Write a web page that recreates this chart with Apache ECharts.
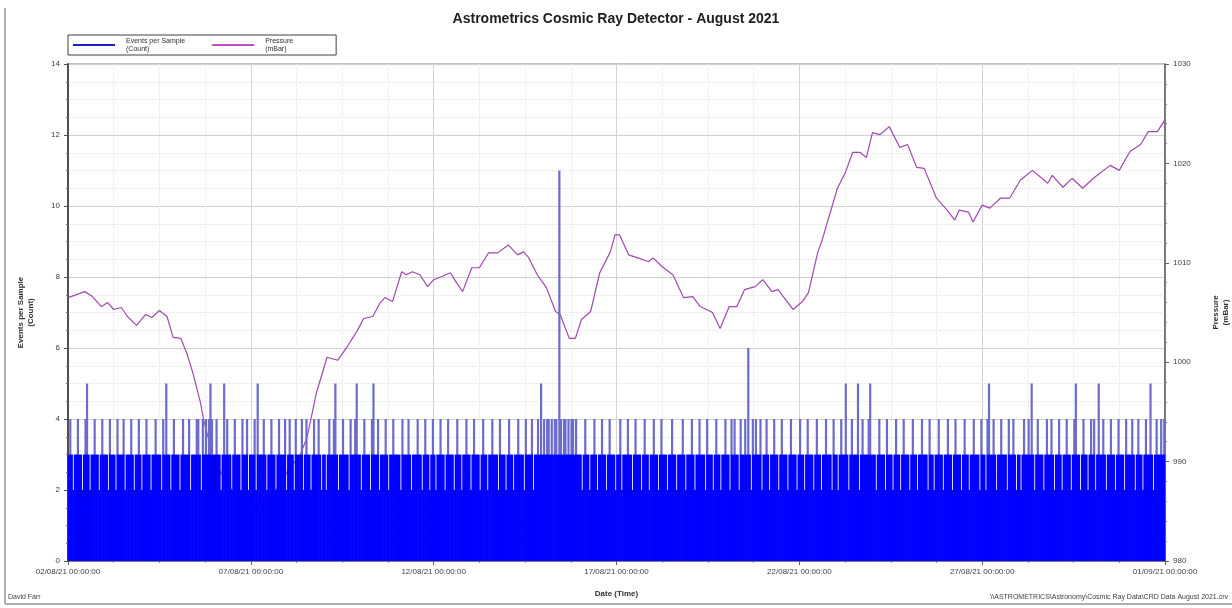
<!DOCTYPE html>
<html>
<head>
<meta charset="utf-8">
<title>Astrometrics Cosmic Ray Detector - August 2021</title>
<script src="https://cdn.jsdelivr.net/npm/echarts@6/dist/echarts.min.js"></script>
<style>
  html, body { margin: 0; padding: 0; background: #fff; }
  #chart { width: 1232px; height: 608px; }
</style>
</head>
<body>
<div id="chart"></div>
<script>
// x axis: hours since 02/08/21 00:00:00, ticks every 5 days
const xTickLabels = ['02/08/21 00:00:00', '07/08/21 00:00:00', '12/08/21 00:00:00', '17/08/21 00:00:00',
  '22/08/21 00:00:00', '27/08/21 00:00:00', '01/09/21 00:00:00']

// events per sample, one sample per hour (one row per day)
const counts = [
  3,4,3,2,3,3,4,3,3,2,3,4,5,3,2,3,3,4,3,3,2,3,4,3,
  3,3,2,4,3,3,3,2,4,3,3,3,4,2,3,3,3,4,3,2,3,3,4,3,
  2,3,3,4,3,3,2,3,3,4,3,3,3,2,4,3,5,3,3,2,3,4,3,3,
  3,2,3,4,3,3,3,4,2,3,3,3,4,4,3,2,4,3,4,3,4,5,4,3,
  3,4,3,3,2,3,5,3,4,3,3,2,3,4,3,3,3,2,4,3,3,4,2,3,
  3,3,4,2,5,3,3,3,4,3,2,3,3,4,3,3,2,3,4,3,3,3,4,2,
  3,4,3,3,2,4,3,3,3,4,2,3,4,3,3,2,3,4,3,3,4,3,2,3,
  3,2,3,4,3,3,4,5,3,2,3,3,4,3,3,3,2,4,3,3,4,5,3,3,
  2,3,4,3,3,3,2,4,5,3,3,4,2,3,3,3,4,3,2,3,3,4,3,3,
  3,3,2,4,3,3,3,4,3,2,3,3,3,4,3,3,2,3,4,3,3,2,3,4,
  3,2,3,3,4,3,3,2,3,4,3,3,3,2,3,4,3,3,2,3,3,4,3,3,
  2,3,4,3,3,3,2,3,4,3,3,2,3,3,4,3,3,3,2,4,3,3,3,2,
  3,4,3,3,2,3,3,4,3,3,3,2,4,3,3,3,4,2,3,3,4,3,5,3,
  4,3,4,4,3,4,3,4,4,3,11,4,3,4,4,3,4,3,4,4,3,4,3,3,
  3,2,3,4,3,3,2,3,3,4,3,2,3,3,4,3,3,2,3,4,3,3,3,2,
  3,3,4,2,3,3,3,4,3,3,2,3,4,3,3,3,2,3,4,3,3,2,3,3,
  4,3,3,2,3,4,3,3,3,2,3,3,4,3,3,2,3,3,3,4,3,2,3,3,
  3,4,3,2,3,3,4,3,3,3,2,4,3,3,3,2,3,4,3,3,2,3,3,4,
  3,3,2,4,3,4,3,3,2,4,3,3,4,3,6,3,2,4,3,4,3,3,4,2,
  3,3,4,3,2,3,3,4,3,3,2,3,4,3,3,3,2,3,4,3,3,3,2,3,
  4,3,3,2,3,4,3,3,3,2,3,4,3,3,2,3,3,4,3,3,3,2,4,3,
  3,2,3,4,3,3,5,3,2,3,4,3,3,3,5,2,3,4,3,3,3,4,5,3,
  3,3,2,3,4,3,3,3,2,4,3,3,3,2,3,4,3,3,2,3,4,3,3,3,
  2,3,4,3,3,2,3,3,4,3,3,3,2,4,3,3,2,3,3,4,3,3,2,3,
  3,4,3,3,2,3,4,3,3,3,2,3,4,3,3,2,3,3,4,3,3,3,2,4,
  3,3,2,4,5,3,3,4,3,2,3,3,4,3,3,3,2,4,3,3,4,3,2,3,
  3,2,3,4,3,3,4,3,5,3,2,3,4,3,3,3,2,3,4,3,3,4,3,2,
  3,3,4,3,2,3,3,4,3,3,2,3,4,5,3,3,2,3,4,3,3,2,3,4,
  3,4,2,3,5,3,3,4,3,2,3,3,4,3,3,2,3,4,3,3,3,2,4,3,
  3,3,4,3,2,3,4,3,3,2,3,4,3,3,5,3,2,3,4,3,3,4,3,4
]

// pressure readings: hours since start and mBar
const pressureHours = [
  0, 11, 16, 22, 26, 30, 35, 39, 45, 51, 55, 60, 65, 69, 74, 78, 82, 87, 89, 96,
  110, 123, 136, 146, 152, 157, 163, 170, 177, 183, 190, 194, 200, 205, 208, 213, 216, 219, 222, 226,
  231, 236, 240, 245, 251, 255, 259, 265, 270, 276, 282, 289, 295, 299, 302, 308, 314, 320, 323, 329,
  333, 337, 343, 349, 356, 359, 362, 368, 374, 381, 384, 390, 397, 404, 410, 415, 423, 428, 434, 439,
  444, 451, 456, 462, 466, 476, 482, 486, 492, 495, 505, 510, 515, 520, 524, 528, 533, 539, 546, 551,
  557, 562, 570, 577, 582, 585, 591, 594, 600, 605, 612, 618, 625, 633, 643, 646, 653, 659, 666, 673,
  684, 690, 697, 704, 709, 715, 720
]
const pressureMbar = [
  1006.5, 1007.1, 1006.6, 1005.6, 1006.0, 1005.3, 1005.5, 1004.6, 1003.7, 1004.8, 1004.5, 1005.2, 1004.6, 1002.5, 1002.4, 1000.9, 998.9, 995.9, 994.2, 990.0,
  986.5, 985.5, 987.0, 989.5, 990.5, 992.5, 996.9, 1000.5, 1000.2, 1001.5, 1003.2, 1004.4, 1004.6, 1006.0, 1006.5, 1006.1, 1007.6, 1009.1, 1008.8, 1009.1,
  1008.8, 1007.6, 1008.3, 1008.6, 1009.0, 1008.0, 1007.1, 1009.5, 1009.5, 1011.0, 1011.0, 1011.8, 1010.8, 1011.1, 1010.6, 1008.8, 1007.5, 1005.1, 1004.8, 1002.4,
  1002.4, 1004.3, 1005.1, 1009.0, 1011.1, 1012.8, 1012.8, 1010.8, 1010.5, 1010.1, 1010.5, 1009.6, 1008.8, 1006.5, 1006.6, 1005.6, 1005.0, 1003.4, 1005.6, 1005.6,
  1007.3, 1007.6, 1008.3, 1007.1, 1007.3, 1005.3, 1006.1, 1007.0, 1011.0, 1012.3, 1017.5, 1019.0, 1021.1, 1021.1, 1020.6, 1023.1, 1022.9, 1023.7, 1021.6, 1021.9,
  1019.6, 1019.5, 1016.5, 1015.3, 1014.3, 1015.3, 1015.1, 1014.1, 1015.8, 1015.5, 1016.5, 1016.5, 1018.3, 1019.3, 1018.0, 1018.8, 1017.6, 1018.5, 1017.5, 1018.5,
  1019.8, 1019.3, 1021.2, 1021.9, 1023.2, 1023.2, 1024.4
]

const FONT = 'Liberation Sans'
const chart = echarts.init(document.getElementById('chart'), null, { renderer: 'canvas' })

const barData = counts.map((v, i) => [i + 0.5, v])
const lineData = pressureHours.map((h, i) => [h, pressureMbar[i]])

// thin bars above the dense band look lighter in the original
const barColor = new echarts.graphic.LinearGradient(0, 455, 0, 454, [
  { offset: 0, color: '#0000ff' },
  { offset: 1, color: '#6b6bcc' }
], true)

const option = {
  animation: false,
  backgroundColor: '#fff',
  textStyle: { fontFamily: FONT },
  title: {
    text: 'Astrometrics Cosmic Ray Detector - August 2021',
    left: 'center',
    top: 7,
    textStyle: { fontFamily: FONT, fontSize: 14, fontWeight: 'bold', color: '#202020' }
  },
  legend: {
    left: 68,
    top: 35,
    itemWidth: 42,
    itemHeight: 2,
    itemGap: 27,
    icon: 'rect',
    borderColor: '#404040',
    borderWidth: 1,
    borderRadius: 0,
    padding: [2, 43, 2, 5],
    textStyle: { fontFamily: FONT, fontSize: 7, color: '#303030', lineHeight: 8, padding: [0, 0, 0, 6] },
    data: [
      { name: 'Events per Sample\n(Count)', itemStyle: { color: '#2020c0' } },
      { name: 'Pressure\n(mBar)' }
    ]
  },
  grid: {
    left: 68, top: 64, width: 1097, height: 497,
    outerBoundsMode: 'none',
    containLabel: false,
    show: true, borderColor: '#808080', borderWidth: 1
  },
  xAxis: {
    type: 'value',
    min: 0, max: 720, interval: 120,
    name: 'Date (Time)',
    nameLocation: 'middle',
    nameGap: 29,
    nameTextStyle: { fontFamily: FONT, fontSize: 8, fontWeight: 'bold', color: '#303030' },
    axisLine: { lineStyle: { color: '#606060', width: 1.5 } },
    axisTick: { length: 4, lineStyle: { color: '#606060' } },
    minorTick: { show: true, splitNumber: 4, length: 2, lineStyle: { color: '#808080' } },
    axisLabel: {
      fontFamily: FONT, fontSize: 8, color: '#404040', margin: 7,
      formatter: v => xTickLabels[Math.round(v / 120)]
    },
    splitLine: { show: true, lineStyle: { color: '#d4d4d4', width: 1 } },
    minorSplitLine: { show: true, lineStyle: { color: '#e6e6e6', type: 'dotted', width: 1 } }
  },
  yAxis: [
    {
      type: 'value',
      min: 0, max: 14, interval: 2,
      name: 'Events per Sample\n(Count)',
      nameLocation: 'middle',
      nameGap: 32,
      nameRotate: 90,
      nameTextStyle: { fontFamily: FONT, fontSize: 8, fontWeight: 'bold', color: '#303030', lineHeight: 10 },
      axisLine: { show: true, lineStyle: { color: '#505050', width: 2 } },
      axisTick: { show: true, length: 4, lineStyle: { color: '#505050' } },
      minorTick: { show: true, splitNumber: 4, length: 2, lineStyle: { color: '#707070' } },
      axisLabel: { fontFamily: FONT, fontSize: 8, color: '#404040', margin: 8 },
      splitLine: { show: true, lineStyle: { color: '#d0d0d0', width: 1 } },
      minorSplitLine: { show: true, lineStyle: { color: '#e4e4e4', type: 'dotted', width: 1 } }
    },
    {
      type: 'value',
      position: 'right',
      min: 980, max: 1030, interval: 10,
      name: 'Pressure\n(mBar)',
      nameLocation: 'middle',
      nameGap: 46,
      nameRotate: 90,
      nameTextStyle: { fontFamily: FONT, fontSize: 8, fontWeight: 'bold', color: '#303030', lineHeight: 10 },
      axisLine: { show: true, lineStyle: { color: '#606060', width: 1.5 } },
      axisTick: { show: true, length: 4, lineStyle: { color: '#606060' } },
      minorTick: { show: true, splitNumber: 5, length: 2, lineStyle: { color: '#808080' } },
      axisLabel: { fontFamily: FONT, fontSize: 8, color: '#404040', margin: 8, formatter: v => String(v) },
      splitLine: { show: false }
    }
  ],
  series: [
    {
      name: 'Events per Sample\n(Count)',
      type: 'bar',
      yAxisIndex: 0,
      barWidth: 2.2,
      barGap: '-100%',
      itemStyle: { color: barColor },
      z: 3,
      data: barData
    },
    {
      name: 'Pressure\n(mBar)',
      type: 'line',
      yAxisIndex: 1,
      showSymbol: false,
      z: 2,
      lineStyle: { color: '#a048b0', width: 1.2 },
      itemStyle: { color: '#c04cc8' },
      data: lineData
    }
  ],
  graphic: [
    { type: 'line', shape: { x1: 5, y1: 8, x2: 5, y2: 604 }, style: { stroke: '#b0b0b0', lineWidth: 2 } },
    { type: 'line', shape: { x1: 5, y1: 604, x2: 1232, y2: 604 }, style: { stroke: '#b0b0b0', lineWidth: 2 } },
    { type: 'text', left: 8, top: 594, style: { text: 'David Farr', font: '7px "Liberation Sans"', fill: '#404040' } },
    {
      type: 'text', right: 4, top: 594,
      style: { text: '\\\\ASTROMETRICS\\Astronomy\\Cosmic Ray Data\\CRD Data August 2021.crv', font: '7px "Liberation Sans"', fill: '#404040' }
    }
  ]
}

chart.setOption(option)
</script>
</body>
</html>
